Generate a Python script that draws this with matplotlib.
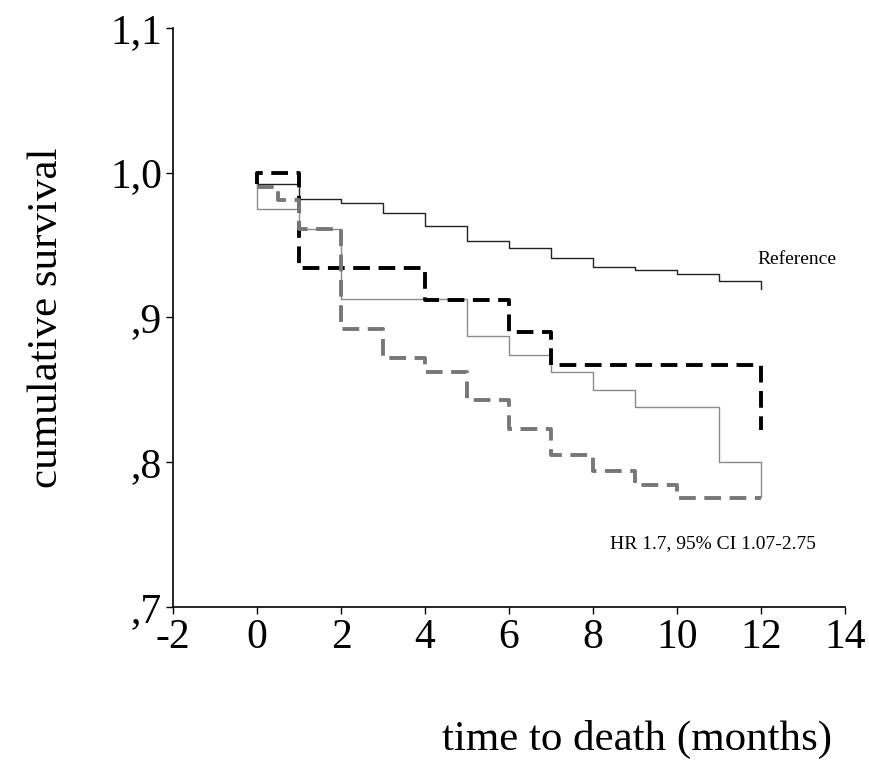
import matplotlib.pyplot as plt

# Kaplan-Meier style step data (months, cumulative survival)
ref_t = [0, 1, 2, 3, 4, 5, 6, 7, 8, 9, 10, 11, 12]
ref_s = [0.992, 0.982, 0.979, 0.972, 0.963, 0.953, 0.948, 0.941, 0.935, 0.933, 0.930, 0.925, 0.920]

grey_t = [0, 0, 1, 2, 5, 6, 7, 8, 9, 11, 12]
grey_s = [0.992, 0.975, 0.961, 0.913, 0.887, 0.874, 0.862, 0.850, 0.838, 0.800, 0.776]

black_dash_t = [0, 0, 1, 4, 6, 7, 12]
black_dash_s = [0.992, 1.0, 0.934, 0.912, 0.890, 0.867, 0.822]

grey_dash_t = [0, 0.5, 1, 2, 3, 4, 5, 6, 7, 8, 9, 10, 12]
grey_dash_s = [0.990, 0.981, 0.961, 0.892, 0.872, 0.862, 0.843, 0.823, 0.805, 0.794, 0.784, 0.775, 0.775]

yticks = [0.7, 0.8, 0.9, 1.0, 1.1]
ytick_labels = [",7", ",8", ",9", "1,0", "1,1"]
xticks = [-2, 0, 2, 4, 6, 8, 10, 12, 14]

plt.rcParams["font.family"] = ["Liberation Serif", "DejaVu Serif"]

fig = plt.figure(figsize=(8.7, 7.74), dpi=100)
ax = fig.add_axes([0.1989, 0.2158, 0.7724, 0.748])

ax.plot(ref_t, ref_s, drawstyle="steps-post", color="#222222", lw=1.0)
ax.plot(grey_t, grey_s, drawstyle="steps-post", color="#8a8a8a", lw=1.0)
ax.plot(black_dash_t, black_dash_s, drawstyle="steps-post", color="black",
        lw=2.8, dashes=(4.3, 2.2))
ax.plot(grey_dash_t, grey_dash_s, drawstyle="steps-post", color="#777777",
        lw=2.8, dashes=(4.3, 2.2))

ax.text(12.85, 0.940, "Reference", fontsize=14, ha="center", va="center")
ax.text(10.85, 0.744, "HR 1.7, 95% CI 1.07-2.75", fontsize=14, ha="center", va="center")

ax.set_xlim(-2, 14)
ax.set_ylim(0.7, 1.1)
ax.set_xticks(xticks)
ax.set_xticklabels([str(x) for x in xticks])
ax.set_yticks(yticks)
ax.set_yticklabels(ytick_labels)
ax.tick_params(labelsize=30, direction="out", length=5, width=1, pad=3)

for side in ["top", "right"]:
    ax.spines[side].set_visible(False)
ax.spines["left"].set_linewidth(1.2)
ax.spines["bottom"].set_linewidth(1.2)

ax.set_ylabel("cumulative survival", fontsize=31)
ax.yaxis.set_label_coords(-0.16, 0.5)
ax.set_xlabel("time to death (months)", fontsize=31)
ax.xaxis.set_label_coords(0.69, -0.195)

fig.savefig("out.png", dpi=100)
